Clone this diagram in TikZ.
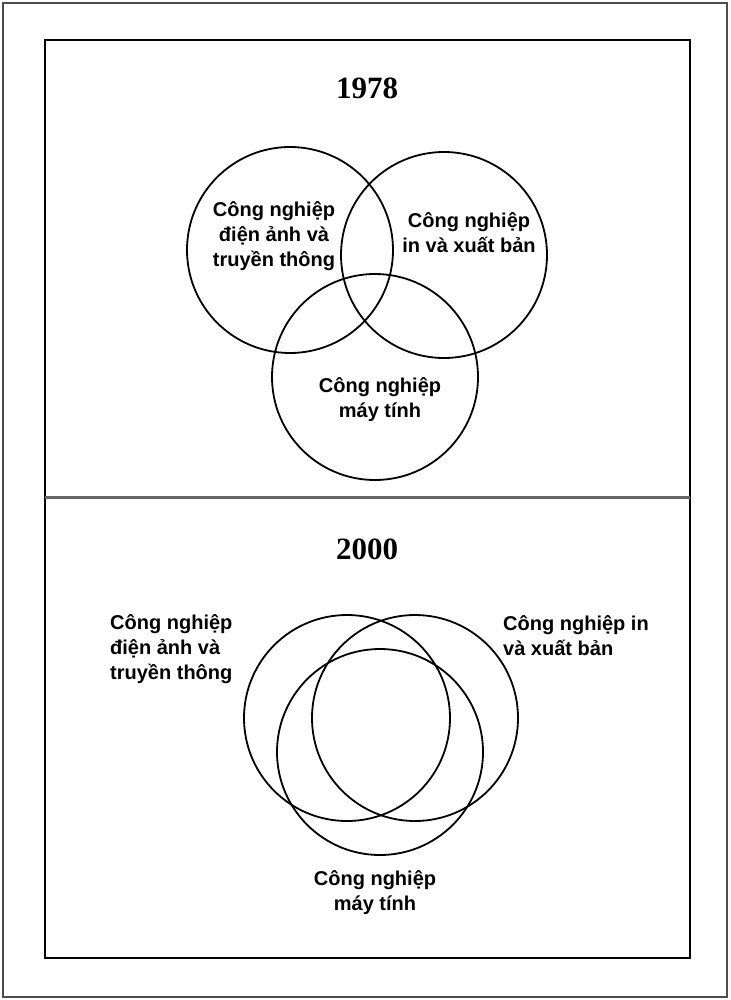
\documentclass[tikz,border=0pt]{standalone}
\usepackage{fontspec}
\setmainfont{Liberation Sans}
\newfontfamily\yearfont{Liberation Serif}
\usetikzlibrary{positioning}

\begin{document}
\begin{tikzpicture}[
  x=1pt, y=-1pt,
  setcircle/.style={
    draw, circle, line width=1.8pt,
    minimum size=206pt, inner sep=0pt
  },
  setlabel/.style={
    font=\fontsize{20}{25}\selectfont\bfseries,
    align=center, inner sep=0pt
  },
  yearlabel/.style={font=\yearfont\fontsize{31}{31}\selectfont\bfseries, inner sep=0pt}
]
\useasboundingbox (0,0) rectangle (730,1000);

% Frames
\draw[line width=1.5pt, black!70] (3,3) rectangle (727,997);
\draw[line width=2.5pt] (45,40) rectangle (690,958);
\coordinate (divl) at (45,497);
\coordinate (divr) at (690,497);
\draw[line width=3pt, black!60] (divl) -- (divr);

% 1978
\node[yearlabel] (y78) at (367,88) {1978};
\node[setcircle] (film78) at (290,250) {};
\node[setcircle] (print78) at (444,255) {};
\node[setcircle] (comp78) at (375,377) {};
\node[setlabel] (film78t) at (274,236) {Công nghiệp\\điện ảnh và\\truyền thông};
\node[setlabel] (print78t) at (469,233) {Công nghiệp\\in và xuất bản};
\node[setlabel] (comp78t) at (380,400) {Công nghiệp\\máy tính};

% 2000
\node[yearlabel] (y00) at (367,549) {2000};
\node[setcircle] (film00) at (347,718) {};
\node[setcircle] (print00) at (415,718) {};
\node[setcircle] (comp00) at (380,752) {};
\node[setlabel, align=left, anchor=west] (film00t) at (110,649) {Công nghiệp\\điện ảnh và\\truyền thông};
\node[setlabel, align=left, anchor=west] (print00t) at (503,636) {Công nghiệp in\\và xuất bản};
\node[setlabel] (comp00t) at (375,893) {Công nghiệp\\máy tính};

\end{tikzpicture}
\end{document}
